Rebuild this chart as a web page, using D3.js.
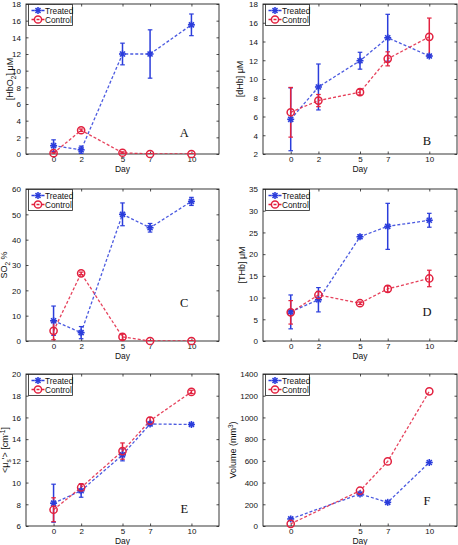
<!DOCTYPE html>
<html><head><meta charset="utf-8">
<script src="https://cdn.jsdelivr.net/npm/d3@7"></script>
<style>body{margin:0;background:#fff}svg{display:block}text{font-family:"Liberation Sans",Arial,sans-serif}</style>
</head><body><svg id="c" width="458" height="545"></svg>
<script>
// ---- data ----
const days = [0, 2, 5, 7, 10];
const daysF = [0, 5, 7, 10];
const seriesNames = ["Treated", "Control"];

const hbo2Treated = [1.0, 0.5, 12.0, 12.0, 15.5];
const hbo2TreatedErr = [0.7, 0.45, 1.3, 2.9, 1.3];
const hbo2Control = [0.1, 2.85, 0.15, 0.0, 0.0];
const hbo2ControlErr = [0.1, 0.15, 0.1, 0.05, 0.05];

const dhbTreated = [5.7, 9.15, 11.95, 14.4, 12.45];
const dhbTreatedErr = [3.35, 2.45, 0.9, 2.5, 0.15];
const dhbControl = [6.45, 7.7, 8.6, 12.15, 14.5];
const dhbControlErr = [2.65, 0.65, 0.3, 0.75, 2.0];

const so2Treated = [8.0, 3.3, 50.0, 44.7, 55.1];
const so2TreatedErr = [5.8, 2.4, 4.5, 1.7, 1.6];
const so2Control = [4.0, 26.7, 1.6, 0.0, 0.0];
const so2ControlErr = [3.5, 0.5, 1.1, 0.1, 0.1];

const thbTreated = [6.7, 9.5, 24.0, 26.4, 27.8];
const thbTreatedErr = [3.9, 2.8, 0.4, 5.3, 1.6];
const thbControl = [6.6, 10.6, 8.7, 12.0, 14.4];
const thbControlErr = [2.7, 0.8, 0.3, 0.7, 1.9];

const musTreated = [8.1, 9.25, 12.55, 15.4, 15.35];
const musTreatedErr = [1.75, 0.6, 0.55, 0.15, 0.1];
const musControl = [7.5, 9.55, 12.9, 15.7, 18.35];
const musControlErr = [1.1, 0.35, 0.75, 0.3, 0.15];

const volTreated = [65, 295, 218, 585];
const volControl = [20, 325, 595, 1240];

const yTicksA = d3.range(0, 19, 2);
const yTicksB = d3.range(2, 19, 2);
const yTicksC = d3.range(0, 61, 10);
const yTicksD = d3.range(0, 36, 5);
const yTicksE = d3.range(6, 21, 2);
const yTicksF = d3.range(0, 1401, 200);

// ---- style ----
const blue = "#2b3ddb", red = "#e2213f";
const svg = d3.select("#c");

const panels = [
  {x0:26, x1:219, y0:4, y1:154, yd:[0,18], yt:yTicksA, xt:days, lo:13, label:[["[HbO",""],["2","sub"],["] μM",""]], letter:"A", lf:[0.82,0.885],
   s:[{x:days,y:hbo2Treated,e:hbo2TreatedErr},{x:days,y:hbo2Control,e:hbo2ControlErr}]},
  {x0:263, x1:457, y0:4, y1:154, yd:[2,18], yt:yTicksB, xt:days, lo:20, label:[["[dHb] μM",""]], letter:"B", lf:[0.845,0.94],
   s:[{x:days,y:dhbTreated,e:dhbTreatedErr},{x:days,y:dhbControl,e:dhbControlErr}]},
  {x0:26, x1:219, y0:189, y1:341, yd:[0,60], yt:yTicksC, xt:days, lo:19, label:[["SO",""],["2","sub"],[" %",""]], letter:"C", lf:[0.82,0.775],
   s:[{x:days,y:so2Treated,e:so2TreatedErr},{x:days,y:so2Control,e:so2ControlErr}]},
  {x0:263, x1:457, y0:189, y1:341, yd:[0,35], yt:yTicksD, xt:days, lo:18, label:[["[THb] μM",""]], letter:"D", lf:[0.845,0.835],
   s:[{x:days,y:thbTreated,e:thbTreatedErr},{x:days,y:thbControl,e:thbControlErr}]},
  {x0:26, x1:219, y0:374, y1:526, yd:[6,20], yt:yTicksE, xt:days, lo:18, label:[["<μ",""],["s","sub"],["'> [cm",""],["-1","sup"],["]",""]], letter:"E", lf:[0.82,0.915],
   s:[{x:days,y:musTreated,e:musTreatedErr},{x:days,y:musControl,e:musControlErr}]},
  {x0:263, x1:457, y0:374, y1:526, yd:[0,1400], yt:yTicksF, xt:daysF, lo:27, label:[["Volume (mm",""],["3","sup"],[")",""]], letter:"F", lf:[0.845,0.865],
   s:[{x:daysF,y:volTreated,e:null},{x:daysF,y:volControl,e:null}]}
];

function star(g, cx, cy, col){
  const r = 3.5, q = r*0.72;
  const segs = [[-r,0,r,0],[0,-r,0,r],[-q,-q,q,q],[-q,q,q,-q]];
  segs.forEach(s=>g.append("line").attr("x1",cx+s[0]).attr("y1",cy+s[1]).attr("x2",cx+s[2]).attr("y2",cy+s[3])
    .attr("stroke",col).attr("stroke-width",1.6));
}
function circ(g, cx, cy, col){
  g.append("circle").attr("cx",cx).attr("cy",cy).attr("r",3.6).attr("fill","none").attr("stroke",col).attr("stroke-width",1.5);
}
const markers = [star, circ];
const colors = [blue, red];

panels.forEach((p, pi) => {
  const g = svg.append("g");
  const x = d3.scaleLinear().domain([-2, 12]).range([p.x0, p.x1]);
  const y = d3.scaleLinear().domain(p.yd).range([p.y1, p.y0]);
  const clipId = "clip"+pi;
  svg.append("clipPath").attr("id",clipId).append("rect").attr("x",p.x0).attr("y",p.y0).attr("width",p.x1-p.x0).attr("height",p.y1-p.y0);

  // axes with inward ticks
  const tl = 2.5;
  const fmt = d3.format("d");
  const ax = g.append("g").attr("transform",`translate(0,${p.y1})`).call(d3.axisBottom(x).tickValues(p.xt).tickSizeInner(-tl).tickSizeOuter(0).tickPadding(2.5).tickFormat(fmt));
  const axT = g.append("g").attr("transform",`translate(0,${p.y0})`).call(d3.axisTop(x).tickValues(p.xt).tickSizeInner(-tl).tickSizeOuter(0).tickFormat(""));
  const ay = g.append("g").attr("transform",`translate(${p.x0},0)`).call(d3.axisLeft(y).tickValues(p.yt).tickSizeInner(-tl).tickSizeOuter(0).tickPadding(5).tickFormat(fmt));
  const ayR = g.append("g").attr("transform",`translate(${p.x1},0)`).call(d3.axisRight(y).tickValues(p.yt).tickSizeInner(-tl).tickSizeOuter(0).tickFormat(""));
  [ax,axT,ay,ayR].forEach(a=>{
    a.select(".domain").remove();
    a.selectAll("line").attr("stroke","#222").attr("stroke-width",0.8);
    a.selectAll("text").attr("font-size",8).attr("fill","#111").style("font-family","'Liberation Sans',Arial,sans-serif");
  });
  ay.selectAll("text").attr("dy","0.35em");
  g.append("rect").attr("x",p.x0).attr("y",p.y0).attr("width",p.x1-p.x0).attr("height",p.y1-p.y0)
    .attr("fill","none").attr("stroke","#222").attr("stroke-width",0.9);

  // x label
  g.append("text").attr("x",(p.x0+p.x1)/2).attr("y",p.y1+17.8).attr("text-anchor","middle").attr("font-size",8.5).attr("fill","#111").text("Day");
  // y label
  const lx = p.x0 - p.lo, ly = (p.y0+p.y1)/2;
  const yl = g.append("text").attr("transform",`translate(${lx},${ly}) rotate(-90)`).attr("text-anchor","middle").attr("font-size",9).attr("fill","#111");
  let prev = null;
  p.label.forEach(([t,k])=>{
    const ts = yl.append("tspan").text(t);
    let dy = 0;
    if(prev==="sub") dy -= 2.5;
    if(prev==="sup") dy += 3.5;
    if(k==="sub"){ ts.attr("font-size",6.5); dy += 2.5; }
    else if(k==="sup"){ ts.attr("font-size",6.5); dy -= 3.5; }
    ts.attr("dy", dy);
    prev = k;
  });

  // series
  const cg = g.append("g").attr("clip-path",`url(#${clipId})`);
  p.s.forEach((s, si) => {
    const col = colors[si];
    const pts = s.x.map((d,i)=>[x(d), y(s.y[i])]);
    cg.append("path").attr("d", d3.line()(pts)).attr("fill","none").attr("stroke",col).attr("stroke-width",1.3)
      .attr("stroke-dasharray","3,2").attr("opacity",0.85);
    if(s.e){
      s.x.forEach((d,i)=>{
        const cx = x(d), yt = y(s.y[i]+s.e[i]), yb = y(s.y[i]-s.e[i]);
        cg.append("line").attr("x1",cx).attr("x2",cx).attr("y1",yt).attr("y2",yb).attr("stroke",col).attr("stroke-width",1.5);
        [yt,yb].forEach(yy=>cg.append("line").attr("x1",cx-2.3).attr("x2",cx+2.3).attr("y1",yy).attr("y2",yy).attr("stroke",col).attr("stroke-width",1.2));
      });
    }
  });
  p.s.forEach((s, si) => {
    s.x.forEach((d,i)=> markers[si](g, x(d), y(s.y[i]), colors[si]));
  });

  // legend
  const lgx = p.x0 + 2.5, lgy = p.y0 + 0.5, lw = 44, lh = 21;
  const lg = g.append("g");
  lg.append("rect").attr("x",lgx).attr("y",lgy).attr("width",lw).attr("height",lh).attr("fill","#fff").attr("stroke","#222").attr("stroke-width",0.8);
  seriesNames.forEach((n, si)=>{
    const yy = lgy + 6 + si*9;
    lg.append("line").attr("x1",lgx+3).attr("x2",lgx+16).attr("y1",yy).attr("y2",yy).attr("stroke",colors[si]).attr("stroke-width",1.3).attr("stroke-dasharray","3,2");
    markers[si](lg, lgx+9.5, yy, colors[si]);
    lg.append("text").attr("x",lgx+16.5).attr("y",yy+3).attr("font-size",8.3).attr("fill","#111").text(n);
  });

  // panel letter
  g.append("text").attr("x", p.x0 + p.lf[0]*(p.x1-p.x0)).attr("y", p.y0 + p.lf[1]*(p.y1-p.y0))
    .attr("text-anchor","middle").attr("font-size",12.5).style("font-family","'Liberation Serif','Times New Roman',serif").attr("fill","#111").text(p.letter);
});
</script></body></html>
